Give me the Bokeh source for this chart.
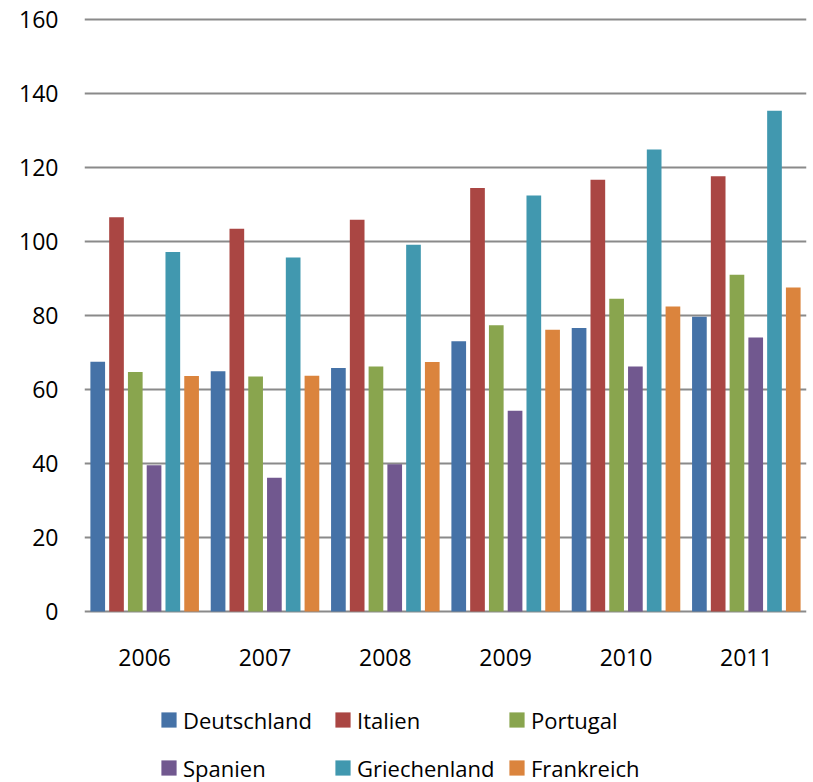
from bokeh.plotting import figure
from bokeh.models import FactorRange, Range1d, Legend, LegendItem, FixedTicker, ColumnDataSource
from bokeh.transform import dodge
from bokeh.core.properties import value
from bokeh.embed import file_html
from bokeh.resources import INLINE

years = ["2006", "2007", "2008", "2009", "2010", "2011"]
deutschland = [67.5, 64.9, 65.8, 73.0, 76.6, 79.6]
italien = [106.5, 103.4, 105.8, 114.4, 116.6, 117.6]
portugal = [64.7, 63.5, 66.2, 77.3, 84.5, 91.0]
spanien = [39.5, 36.1, 39.8, 54.2, 66.2, 74.0]
griechenland = [97.1, 95.6, 99.1, 112.4, 124.8, 135.3]
frankreich = [63.6, 63.7, 67.4, 76.1, 82.4, 87.5]

series_names = ["Deutschland", "Italien", "Portugal", "Spanien", "Griechenland", "Frankreich"]
series_values = [deutschland, italien, portugal, spanien, griechenland, frankreich]
colors = ["#4572A7", "#AA4643", "#89A54E", "#71588F", "#4198AF", "#DB843D"]
y_ticks = [0, 20, 40, 60, 80, 100, 120, 140, 160]

FONT = "Open Sans"
GRID = "#8a8a8a"

data = {"year": years}
for name, vals in zip(series_names, series_values):
    data[name] = vals
source = ColumnDataSource(data)

# frame runs down to the bottom of the page so the legend is drawn inside it
p = figure(
    width=813, height=782,
    x_range=FactorRange(*years, range_padding=0),
    y_range=Range1d(-46.19, 161),
    output_backend="svg", toolbar_location=None,
    min_border_left=84, min_border_right=7, min_border_top=15, min_border_bottom=0,
)
p.outline_line_color = None
p.background_fill_color = "white"
p.border_fill_color = "white"

pitch = 0.156
bar_w = 0.122
items = []
for k, (name, col) in enumerate(zip(series_names, colors)):
    r = p.vbar(x=dodge("year", (k - 2.5) * pitch, range=p.x_range), top=name, width=bar_w,
               source=source, fill_color=col, line_color=None)
    items.append(LegendItem(label=name, renderers=[r]))

# grid (the line at 0 is the category axis line)
p.xgrid.grid_line_color = None
p.ygrid.grid_line_color = GRID
p.ygrid.grid_line_width = 2
p.yaxis.ticker = FixedTicker(ticks=y_ticks)

# y axis
p.yaxis.axis_line_color = None
p.yaxis.major_tick_line_color = None
p.yaxis.minor_tick_line_color = None
p.yaxis.major_tick_out = 0
p.yaxis.major_tick_in = 0
p.yaxis.major_label_standoff = 26
p.yaxis.major_label_text_font = FONT
p.yaxis.major_label_text_font_size = "23px"
p.yaxis.major_label_text_color = "black"

# category labels below the 0 line
p.xaxis.visible = False
year_label_offset = -12.4
p.text(x=years, y=[year_label_offset] * len(years), text=years,
       text_align="center", text_baseline="middle",
       text_font=value(FONT), text_font_size="23px", text_color="black")

legend = Legend(
    items=items, location=(75, -7), orientation="horizontal", ncols=3,
    glyph_width=19, glyph_height=19, label_standoff=5, label_width=145, label_height=43,
    spacing=5, padding=0, margin=0,
    label_text_font=FONT, label_text_font_size="22px", label_text_color="black",
    border_line_color=None, background_fill_alpha=0,
)
p.add_layout(legend, "center")

open("out.html", "w").write(file_html(p, INLINE))
